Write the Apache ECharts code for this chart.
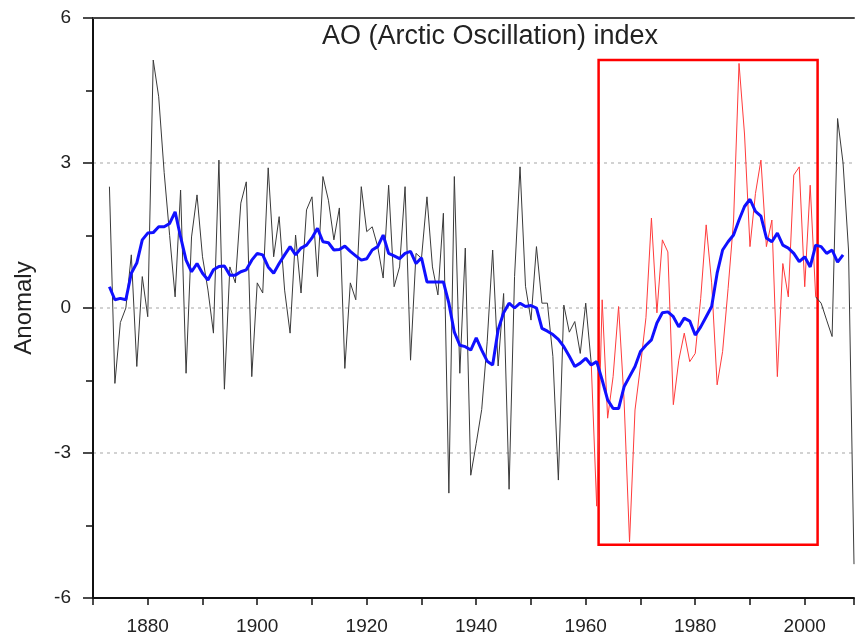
<!DOCTYPE html>
<html>
<head>
<meta charset="utf-8">
<script src="https://cdn.jsdelivr.net/npm/echarts@6/dist/echarts.min.js"></script>
<style>
  html, body { margin: 0; padding: 0; background: #fff; }
  #chart { width: 857px; height: 639px; }
</style>
</head>
<body>
<div id="chart"></div>
<script>
// Annual AO index, 1873..2009
const annualStartYear = 1873;
const annualValues = [
  2.51, -1.56, -0.3, 0.0, 1.1, -1.21, 0.65, -0.18, 5.13, 4.37,
  2.8, 1.5, 0.23, 2.44, -1.35, 1.47, 2.34, 1.06, 0.37, -0.52,
  3.06, -1.68, 0.85, 0.52, 2.17, 2.61, -1.42, 0.52, 0.31, 2.9,
  1.06, 1.89, 0.37, -0.52, 1.51, 0.31, 2.03, 2.3, 0.65, 2.72,
  2.23, 1.41, 2.07, -1.25, 0.52, 0.17, 2.51, 1.58, 1.68, 1.27,
  0.62, 2.54, 0.44, 0.85, 2.51, -1.08, 1.13, 1.03, 2.3, 0.85,
  0.27, 1.96, -3.83, 2.72, -1.35, 1.24, -3.46, -2.8, -2.1, -0.7,
  1.2, -1.2, 0.3, -3.75, 0.65, 2.92, 0.45, -0.25, 1.27, 0.1,
  0.1, -1.0, -3.56, 0.06, -0.5, -0.28, -0.94, 0.1, -1.14, -4.1,
  0.17, -2.28, -1.42, 0.03, -1.9, -4.84, -2.11, -1.2, -0.2, 1.86,
  -0.1, 1.41, 1.16, -2.0, -1.08, -0.52, -1.11, -0.94, 0.2, 1.72,
  0.52, -1.59, -0.9, 0.4, 1.8, 5.06, 3.6, 1.27, 2.37, 3.06,
  1.27, 1.82, -1.42, 0.92, 0.23, 2.75, 2.92, 0.44, 2.54, 0.23,
  0.1, -0.25, -0.59, 3.92, 3.0, 1.2, -5.3
];
// Smoothed AO index, 1873..2007
const smoothStartYear = 1873;
const smoothValues = [
  0.44, 0.17, 0.2, 0.17, 0.72, 0.93, 1.41, 1.55, 1.56, 1.68,
  1.68, 1.75, 1.99, 1.47, 0.99, 0.75, 0.92, 0.72, 0.58, 0.79,
  0.86, 0.87, 0.68, 0.68, 0.75, 0.79, 0.99, 1.13, 1.1, 0.85,
  0.72, 0.92, 1.1, 1.27, 1.1, 1.24, 1.3, 1.45, 1.65, 1.37,
  1.35, 1.2, 1.21, 1.28, 1.17, 1.08, 0.99, 1.02, 1.2, 1.27,
  1.51, 1.13, 1.08, 1.02, 1.13, 1.17, 0.92, 1.04, 0.54, 0.54,
  0.54, 0.54, 0.1, -0.5, -0.77, -0.8, -0.87, -0.62, -0.87, -1.1,
  -1.18, -0.45, -0.1, 0.1, 0.0, 0.1, 0.03, 0.05, 0.0, -0.42,
  -0.48, -0.55, -0.65, -0.8, -1.0, -1.21, -1.14, -1.04, -1.18, -1.11,
  -1.49, -1.9, -2.08, -2.08, -1.63, -1.42, -1.21, -0.9, -0.77, -0.66,
  -0.31, -0.1, -0.08, -0.18, -0.39, -0.21, -0.27, -0.56, -0.39, -0.18,
  0.03, 0.72, 1.2, 1.37, 1.51, 1.82, 2.1, 2.25, 2.0, 1.9,
  1.45, 1.37, 1.55, 1.3, 1.24, 1.13, 0.96, 1.06, 0.85, 1.3,
  1.27, 1.13, 1.2, 0.95, 1.1
];
// highlighted period (red)
const highlightFrom = 1961;
const highlightTo = 2002;
const boxCorners = [[1962.35, 5.13], [2002.35, -4.9]];
const yTicks = [-6, -3, 0, 3, 6];

const annualPairs = annualValues.map((v, i) => [annualStartYear + i, v]);
const smoothPairs = smoothValues.map((v, i) => [smoothStartYear + i, v]);
const greyBefore = annualPairs.filter(p => p[0] <= highlightFrom);
const greyAfter = annualPairs.filter(p => p[0] >= highlightTo);
const redPart = annualPairs.filter(p => p[0] >= highlightFrom && p[0] <= highlightTo);

const chart = echarts.init(document.getElementById('chart'), null, { renderer: 'canvas' });
const FONT = 'Liberation Sans, Arial, sans-serif';
chart.setOption({
  animation: false,
  backgroundColor: '#ffffff',
  title: {
    text: 'AO (Arctic Oscillation) index',
    left: 322, top: 23, padding: 0,
    textStyle: { fontSize: 27, fontWeight: 'normal', color: '#222', fontFamily: FONT }
  },
  grid: { left: 93, top: 18, right: 0, bottom: 41, containLabel: false },
  xAxis: [{
    type: 'value', min: 1870, max: 2009, interval: 10,
    axisLine: { show: true, onZero: false, lineStyle: { color: '#111', width: 2 } },
    axisTick: { show: true, length: 7, lineStyle: { color: '#111', width: 1.5 } },
    axisLabel: {
      margin: 19, fontSize: 19, color: '#222', fontFamily: FONT,
      formatter: v => (v % 20 === 0 ? String(v) : '')
    },
    splitLine: { show: false }
  }, {
    type: 'value', position: 'top', min: 1870, max: 2009, interval: 10,
    axisLine: { show: true, onZero: false, lineStyle: { color: '#444', width: 2 } },
    axisTick: { show: false }, axisLabel: { show: false }, splitLine: { show: false }
  }],
  yAxis: {
    type: 'value', min: yTicks[0], max: yTicks[yTicks.length - 1], interval: 3,
    name: 'Anomaly', nameLocation: 'middle', nameGap: 57,
    nameTextStyle: { fontSize: 24, color: '#222', fontFamily: FONT },
    axisLine: { show: true, onZero: false, lineStyle: { color: '#111', width: 2 } },
    axisTick: { show: true, length: 10, lineStyle: { color: '#111', width: 1.5 } },
    minorTick: { show: true, splitNumber: 2, length: 7, lineStyle: { color: '#111', width: 1.5 } },
    axisLabel: { margin: 22, fontSize: 19, color: '#222', fontFamily: FONT },
    splitLine: {
      show: true, showMinLine: false, showMaxLine: false,
      lineStyle: { color: '#c4c4c4', width: 1.5, type: [3, 4] }
    }
  },
  series: [
    {
      type: 'line', data: greyBefore, showSymbol: false, symbol: 'none',
      lineStyle: { color: '#3a3a3a', width: 1 }, z: 2, silent: true
    },
    {
      type: 'line', data: greyAfter, showSymbol: false, symbol: 'none',
      lineStyle: { color: '#3a3a3a', width: 1 }, z: 2, silent: true
    },
    {
      type: 'line', data: redPart, showSymbol: false, symbol: 'none',
      lineStyle: { color: '#ff3b3b', width: 1 }, z: 3, silent: true,
      markArea: {
        silent: true,
        itemStyle: { color: 'rgba(0,0,0,0)', borderColor: '#ff0000', borderWidth: 2.5 },
        label: { show: false },
        data: [[{ coord: boxCorners[0] }, { coord: boxCorners[1] }]]
      }
    },
    {
      type: 'line', data: smoothPairs, showSymbol: false, symbol: 'none',
      lineStyle: { color: '#1010ff', width: 3 }, z: 5, silent: true
    }
  ]
});
</script>
</body>
</html>
